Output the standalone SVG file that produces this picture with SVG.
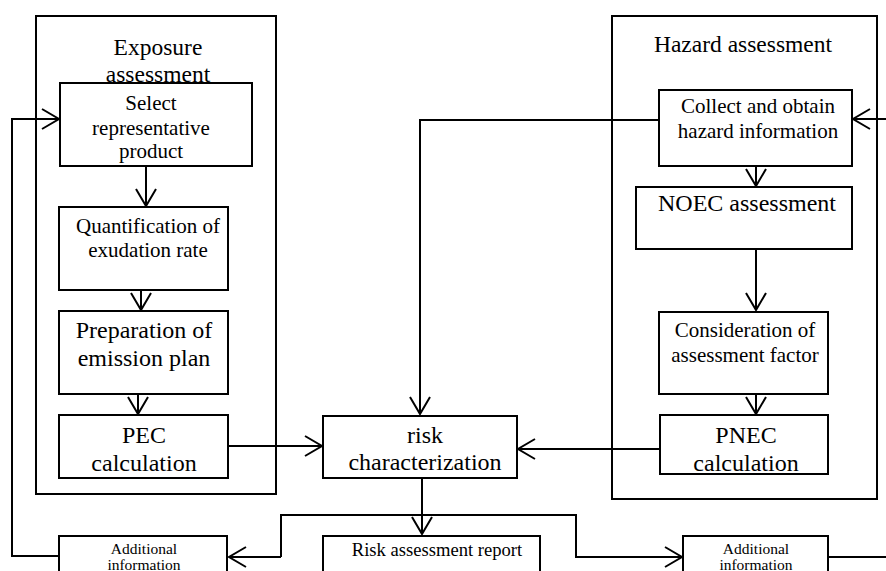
<svg xmlns="http://www.w3.org/2000/svg" width="886" height="571" viewBox="0 0 886 571">
<style>
.box{fill:#fff;stroke:#000;stroke-width:2}
.frame{fill:none;stroke:#000;stroke-width:2}
.ln{fill:none;stroke:#000;stroke-width:2}
text{font-family:"Liberation Serif","Times New Roman",serif;fill:#000;text-anchor:middle}
.h{font-size:23.5px}
.m{font-size:21px}
.l{font-size:24px}
.s{font-size:15.5px}
.r{font-size:18.6px}
</style>
<defs>
<marker id="arr" markerUnits="userSpaceOnUse" markerWidth="24" markerHeight="24" viewBox="-20 -12 24 24" refX="0" refY="0" orient="auto" overflow="visible">
<path d="M-17,-10 L0,0 L-17,10" fill="none" stroke="#000" stroke-width="2"/>
</marker>
</defs>
<g id="exposure-frame">
<rect class="frame" x="36" y="16" width="240" height="478"/>
<text class="h" x="158" y="55">Exposure</text>
<text class="h" x="158" y="82">assessment</text>
</g>
<g id="hazard-frame">
<rect class="frame" x="612" y="16" width="265" height="483"/>
<text class="h" x="743" y="52">Hazard assessment</text>
</g>
<g id="connectors">
<line class="ln" x1="146" y1="166" x2="146" y2="206" marker-end="url(#arr)"/>
<line class="ln" x1="141" y1="290" x2="141" y2="310" marker-end="url(#arr)"/>
<line class="ln" x1="138" y1="394" x2="138" y2="414" marker-end="url(#arr)"/>
<line class="ln" x1="228" y1="446" x2="322" y2="446" marker-end="url(#arr)"/>
<line class="ln" x1="660" y1="449" x2="518" y2="449" marker-end="url(#arr)"/>
<polyline class="ln" points="659,120 420,120 420,414" marker-end="url(#arr)"/>
<line class="ln" x1="886" y1="119" x2="853" y2="119" marker-end="url(#arr)"/>
<line class="ln" x1="756" y1="166" x2="756" y2="186" marker-end="url(#arr)"/>
<line class="ln" x1="756" y1="249" x2="756" y2="310" marker-end="url(#arr)"/>
<line class="ln" x1="756" y1="394" x2="756" y2="414" marker-end="url(#arr)"/>
<line class="ln" x1="422" y1="478" x2="422" y2="534" marker-end="url(#arr)"/>
<polyline class="ln" points="281,557 281,515 576,515 576,557 682,557" marker-end="url(#arr)"/>
<line class="ln" x1="281" y1="557" x2="229" y2="557" marker-end="url(#arr)"/>
<polyline class="ln" points="60,556 12,556 12,119 59,119" marker-end="url(#arr)"/>
<line class="ln" x1="828" y1="557" x2="886" y2="557"/>
</g>
<g id="select">
<rect class="box" x="60" y="83" width="192" height="83"/>
<text class="m" x="151" y="110">Select</text>
<text class="m" x="151" y="135">representative</text>
<text class="m" x="151" y="158">product</text>
</g>
<g id="quantification">
<rect class="box" x="59" y="207" width="169" height="83"/>
<text class="m" x="148" y="233">Quantification of</text>
<text class="m" x="148" y="257">exudation rate</text>
</g>
<g id="preparation">
<rect class="box" x="59" y="311" width="169" height="83"/>
<text class="l" x="144" y="338">Preparation of</text>
<text class="l" x="144" y="366">emission plan</text>
</g>
<g id="pec">
<rect class="box" x="59" y="415" width="169" height="63"/>
<text class="l" x="144" y="443">PEC</text>
<text class="l" x="144" y="471">calculation</text>
</g>
<g id="risk">
<rect class="box" x="323" y="416" width="194" height="62"/>
<text class="l" x="425" y="443">risk</text>
<text class="l" x="425" y="470">characterization</text>
</g>
<g id="collect">
<rect class="box" x="659" y="90" width="193" height="76"/>
<text class="m" x="758" y="113">Collect and obtain</text>
<text class="m" x="758" y="138">hazard information</text>
</g>
<g id="noec">
<rect class="box" x="636" y="187" width="216" height="62"/>
<text class="l" x="747" y="211">NOEC assessment</text>
</g>
<g id="consideration">
<rect class="box" x="659" y="312" width="169" height="82"/>
<text class="m" x="745" y="337">Consideration of</text>
<text class="m" x="745" y="362">assessment factor</text>
</g>
<g id="pnec">
<rect class="box" x="660" y="415" width="168" height="59"/>
<text class="l" x="746" y="443">PNEC</text>
<text class="l" x="746" y="471">calculation</text>
</g>
<g id="additional-left">
<rect class="box" x="59" y="536" width="168" height="50"/>
<text class="s" x="144" y="554">Additional</text>
<text class="s" x="144" y="570">information</text>
</g>
<g id="report">
<rect class="box" x="323" y="536" width="217" height="50"/>
<text class="r" x="437" y="556">Risk assessment report</text>
</g>
<g id="additional-right">
<rect class="box" x="683" y="536" width="145" height="50"/>
<text class="s" x="756" y="554">Additional</text>
<text class="s" x="756" y="570">information</text>
</g>
</svg>
